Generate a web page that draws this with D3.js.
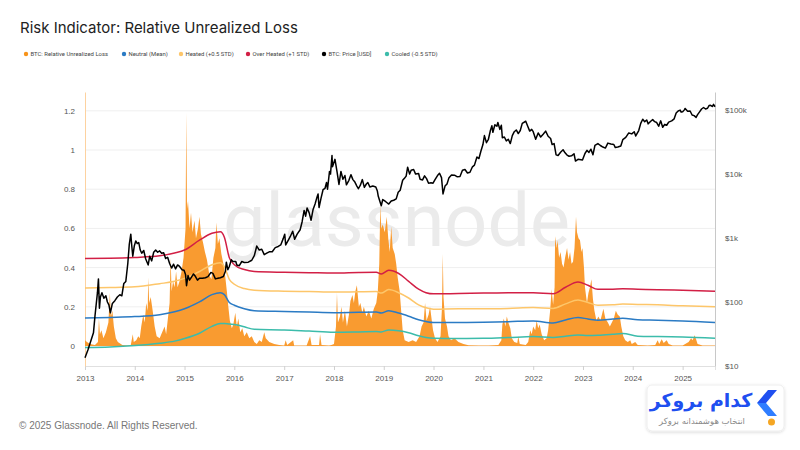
<!DOCTYPE html>
<html>
<head>
<meta charset="utf-8">
<script src="https://cdn.jsdelivr.net/npm/d3@7"></script>
<style>
  body { margin: 0; background: #fff; }
  svg { display: block; font-family: Roboto, "Open Sans", sans-serif; }
</style>
</head>
<body>
<svg id="chart" width="800" height="450"></svg>
<script>
// values, dates as decimal years
var yearTicks = [2013, 2014, 2015, 2016, 2017, 2018, 2019, 2020, 2021, 2022, 2023, 2024, 2025];
var lossTicks = [0, 0.2, 0.4, 0.6, 0.8, 1, 1.2];
var priceTicks = [10, 100, 1000, 10000, 100000];
var priceTickLabels = ["$10", "$100", "$1k", "$10k", "$100k"];

var legendNames = ["BTC: Relative Unrealized Loss", "Neutral (Mean)", "Heated (+0.5 STD)",
                   "Over Heated (+1 STD)", "BTC: Price [USD]", "Cooled (-0.5 STD)"];
var legendColors = ["#f7931a", "#2b7bc4", "#fdc66a", "#d21f45", "#000000", "#3cbcab"];
var legendX = [26, 124, 181, 248, 324, 387];

// BTC: Relative Unrealized Loss
var rulYears = [
  2013.0, 2013.04, 2013.1, 2013.2, 2013.26, 2013.28, 2013.3, 2013.33, 2013.37, 2013.42, 2013.47, 2013.5,
  2013.52, 2013.55, 2013.58, 2013.62, 2013.66, 2013.75, 2013.85, 2013.92, 2013.96, 2013.98,
  2014.03, 2014.07, 2014.1, 2014.13, 2014.17, 2014.2, 2014.23, 2014.26, 2014.27, 2014.29, 2014.32, 2014.36,
  2014.4, 2014.44, 2014.5, 2014.55, 2014.6, 2014.63, 2014.67, 2014.7, 2014.72, 2014.74, 2014.77, 2014.8,
  2014.83, 2014.86, 2014.9, 2014.94, 2014.98,
  2015.02, 2015.035, 2015.05, 2015.07, 2015.1, 2015.13, 2015.16, 2015.2, 2015.23, 2015.27, 2015.3, 2015.33,
  2015.37, 2015.41, 2015.45, 2015.5, 2015.54, 2015.58, 2015.62, 2015.64, 2015.67, 2015.7, 2015.74, 2015.78,
  2015.82, 2015.85, 2015.88, 2015.91, 2015.95, 2015.98,
  2016.02, 2016.05, 2016.08, 2016.12, 2016.16, 2016.2, 2016.25, 2016.3, 2016.35, 2016.4, 2016.45, 2016.5,
  2016.55, 2016.6, 2016.63, 2016.7, 2016.8, 2016.9,
  2017.0, 2017.03, 2017.06, 2017.18, 2017.2, 2017.45, 2017.52, 2017.55, 2017.7, 2017.72, 2017.75, 2017.9, 2017.95,
  2018.0, 2018.04, 2018.06, 2018.08, 2018.12, 2018.15, 2018.18, 2018.22, 2018.26, 2018.3, 2018.33, 2018.37,
  2018.4, 2018.43, 2018.46, 2018.5, 2018.53, 2018.57, 2018.6, 2018.65, 2018.7, 2018.75, 2018.8, 2018.85,
  2018.88, 2018.91, 2018.93, 2018.95, 2018.98,
  2019.02, 2019.06, 2019.09, 2019.12, 2019.15, 2019.18, 2019.22, 2019.25, 2019.28, 2019.32, 2019.35, 2019.38,
  2019.42, 2019.5, 2019.58, 2019.65, 2019.72, 2019.76, 2019.8, 2019.83, 2019.86, 2019.9, 2019.93, 2019.96, 2019.99,
  2020.03, 2020.08, 2020.14, 2020.17, 2020.185, 2020.2, 2020.23, 2020.27, 2020.3, 2020.35, 2020.42, 2020.5,
  2020.6, 2020.7, 2020.9,
  2021.1, 2021.3, 2021.36, 2021.38, 2021.41, 2021.44, 2021.47, 2021.5, 2021.54, 2021.57, 2021.62, 2021.68,
  2021.7, 2021.73, 2021.85, 2021.9, 2021.94, 2021.97,
  2022.0, 2022.04, 2022.07, 2022.1, 2022.13, 2022.17, 2022.22, 2022.27, 2022.3, 2022.34, 2022.37, 2022.4,
  2022.43, 2022.44, 2022.47, 2022.49, 2022.52, 2022.55, 2022.58, 2022.61, 2022.64, 2022.68, 2022.71, 2022.74,
  2022.77, 2022.8, 2022.83, 2022.86, 2022.88, 2022.91, 2022.94, 2022.97, 2022.99,
  2023.02, 2023.04, 2023.08, 2023.11, 2023.14, 2023.17, 2023.2, 2023.23, 2023.27, 2023.31, 2023.35, 2023.38,
  2023.41, 2023.45, 2023.5, 2023.54, 2023.58, 2023.62, 2023.66, 2023.7, 2023.74, 2023.77, 2023.81, 2023.85,
  2023.9, 2023.95, 2023.98,
  2024.05, 2024.1, 2024.3, 2024.45, 2024.5, 2024.53, 2024.58, 2024.62, 2024.68, 2024.72, 2024.8,
  2025.0, 2025.12, 2025.17, 2025.2, 2025.24, 2025.27, 2025.3, 2025.4, 2025.65
];
var rulValues = [
  0.03, 0.02, 0.01, 0.005, 0.02, 0.14, 0.06, 0.08, 0.04, 0.07, 0.12, 0.27,
  0.15, 0.18, 0.1, 0.04, 0.02, 0.005, 0.002, 0.005, 0.06, 0.02,
  0.03, 0.05, 0.04, 0.1, 0.16, 0.12, 0.22, 0.18, 0.35, 0.22, 0.25, 0.18,
  0.1, 0.05, 0.04, 0.07, 0.1, 0.06, 0.15, 0.22, 0.45, 0.28, 0.33, 0.3,
  0.38, 0.3, 0.33, 0.38, 0.45,
  0.6, 1.19, 0.7, 0.74, 0.6, 0.68, 0.58, 0.64, 0.55, 0.6, 0.66, 0.57,
  0.53, 0.48, 0.44, 0.36, 0.34, 0.45, 0.5, 0.63, 0.52, 0.55, 0.47, 0.42,
  0.35, 0.28, 0.2, 0.13, 0.09, 0.11,
  0.17, 0.1, 0.14, 0.07, 0.09, 0.05, 0.07, 0.04, 0.05, 0.02, 0.01, 0.03,
  0.02, 0.07, 0.04, 0.02, 0.01, 0.005,
  0.003, 0.03, 0.005, 0.03, 0.003, 0.003, 0.05, 0.005, 0.005, 0.06, 0.005, 0.003, 0.005,
  0.01, 0.1, 0.27, 0.12, 0.15, 0.2, 0.12, 0.18, 0.1, 0.16, 0.23, 0.26,
  0.22, 0.28, 0.31, 0.2, 0.22, 0.17, 0.2, 0.15, 0.18, 0.14, 0.19, 0.22,
  0.28, 0.42, 0.72, 0.6, 0.62,
  0.58, 0.66, 0.55, 0.48, 0.61, 0.5, 0.47, 0.42, 0.35, 0.28, 0.18, 0.08,
  0.03, 0.02, 0.03, 0.02, 0.05, 0.1, 0.12, 0.22, 0.13, 0.16, 0.2, 0.14, 0.08,
  0.04, 0.02, 0.05, 0.2, 0.47, 0.25, 0.14, 0.1, 0.05, 0.03, 0.04, 0.02,
  0.01, 0.004, 0.002,
  0.002, 0.005, 0.03, 0.11, 0.14, 0.1, 0.15, 0.12, 0.09, 0.04, 0.02, 0.015,
  0.05, 0.01, 0.005, 0.02, 0.08, 0.06,
  0.1, 0.08, 0.13, 0.09, 0.11, 0.06, 0.03, 0.04, 0.08, 0.18, 0.29, 0.21,
  0.3, 0.56, 0.5, 0.54, 0.45, 0.48, 0.42, 0.4, 0.45, 0.5, 0.44, 0.48,
  0.42, 0.43, 0.5, 0.66, 0.58, 0.55, 0.54, 0.48, 0.5,
  0.4, 0.3, 0.22, 0.27, 0.3, 0.34, 0.24, 0.18, 0.13, 0.15, 0.13, 0.16,
  0.19, 0.14, 0.12, 0.1, 0.12, 0.14, 0.18, 0.16, 0.15, 0.1, 0.05, 0.03,
  0.02, 0.03, 0.01,
  0.02, 0.005, 0.003, 0.005, 0.03, 0.01, 0.035, 0.015, 0.03, 0.01, 0.003,
  0.003, 0.02, 0.04, 0.03, 0.055, 0.035, 0.01, 0.003, 0.003
];

// BTC: Price [USD]
var priceYears = [
  2013.0, 2013.06, 2013.12, 2013.17, 2013.2, 2013.25, 2013.27, 2013.29, 2013.31, 2013.34, 2013.38, 2013.42,
  2013.45, 2013.48, 2013.51, 2013.55, 2013.6, 2013.65, 2013.7, 2013.74, 2013.78, 2013.82, 2013.86, 2013.89,
  2013.92, 2013.94, 2013.96, 2013.99,
  2014.02, 2014.05, 2014.08, 2014.11, 2014.14, 2014.18, 2014.22, 2014.27, 2014.3, 2014.34, 2014.38, 2014.42,
  2014.46, 2014.5, 2014.54, 2014.58, 2014.62, 2014.66, 2014.7, 2014.74, 2014.78, 2014.82, 2014.86, 2014.9,
  2014.95, 2014.99,
  2015.02, 2015.04, 2015.07, 2015.1, 2015.14, 2015.18, 2015.22, 2015.26, 2015.3, 2015.36, 2015.42, 2015.47,
  2015.53, 2015.57, 2015.62, 2015.67, 2015.72, 2015.78, 2015.82, 2015.84, 2015.87, 2015.9, 2015.94, 2015.97,
  2016.03, 2016.05, 2016.1, 2016.15, 2016.2, 2016.28, 2016.35, 2016.4, 2016.45, 2016.5, 2016.55, 2016.6,
  2016.65, 2016.7, 2016.76, 2016.82, 2016.88, 2016.93, 2016.98,
  2017.01, 2017.03, 2017.08, 2017.12, 2017.17, 2017.21, 2017.26, 2017.32, 2017.36, 2017.4, 2017.43, 2017.46,
  2017.5, 2017.54, 2017.58, 2017.62, 2017.66, 2017.68, 2017.7, 2017.74, 2017.78, 2017.82, 2017.85, 2017.87,
  2017.91, 2017.93, 2017.96, 2017.97,
  2018.02, 2018.06, 2018.1, 2018.14, 2018.18, 2018.22, 2018.25, 2018.3, 2018.34, 2018.38, 2018.42, 2018.46,
  2018.49, 2018.53, 2018.57, 2018.61, 2018.65, 2018.68, 2018.72, 2018.78, 2018.84, 2018.87, 2018.89, 2018.92,
  2018.95, 2018.98,
  2019.02, 2019.06, 2019.1, 2019.15, 2019.2, 2019.25, 2019.29, 2019.33, 2019.38, 2019.42, 2019.45, 2019.48,
  2019.52, 2019.55, 2019.6, 2019.64, 2019.7, 2019.73, 2019.78, 2019.82, 2019.86, 2019.9, 2019.95, 2019.99,
  2020.03, 2020.08, 2020.12, 2020.16, 2020.19, 2020.23, 2020.27, 2020.31, 2020.36, 2020.42, 2020.47, 2020.53,
  2020.58, 2020.63, 2020.68, 2020.73, 2020.78, 2020.82, 2020.87, 2020.91, 2020.95, 2020.99,
  2021.02, 2021.06, 2021.1, 2021.14, 2021.17, 2021.19, 2021.23, 2021.27, 2021.29, 2021.33, 2021.36, 2021.38,
  2021.42, 2021.46, 2021.5, 2021.54, 2021.58, 2021.62, 2021.66, 2021.7, 2021.74, 2021.78, 2021.85, 2021.89,
  2021.93, 2021.97,
  2022.0, 2022.05, 2022.1, 2022.15, 2022.2, 2022.25, 2022.3, 2022.35, 2022.38, 2022.42, 2022.46, 2022.5,
  2022.55, 2022.6, 2022.64, 2022.68, 2022.72, 2022.77, 2022.82, 2022.85, 2022.9, 2022.96, 2022.99,
  2023.04, 2023.08, 2023.12, 2023.16, 2023.2, 2023.24, 2023.3, 2023.35, 2023.4, 2023.45, 2023.5, 2023.56,
  2023.62, 2023.65, 2023.7, 2023.76, 2023.8, 2023.86, 2023.92, 2023.98,
  2024.03, 2024.06, 2024.12, 2024.16, 2024.2, 2024.24, 2024.28, 2024.31, 2024.36, 2024.4, 2024.44, 2024.48,
  2024.52, 2024.56, 2024.6, 2024.64, 2024.68, 2024.72, 2024.78, 2024.83, 2024.87, 2024.91, 2024.95, 2024.97,
  2025.0, 2025.03, 2025.05, 2025.1, 2025.15, 2025.19, 2025.23, 2025.27, 2025.3, 2025.34, 2025.38, 2025.42,
  2025.46, 2025.5, 2025.53, 2025.56, 2025.6, 2025.62, 2025.65
];
var priceValues = [
  13.5, 18, 25, 33, 60, 140, 230, 80, 120, 140, 115, 125,
  100, 90, 68, 95, 105, 120, 130, 125, 195, 210, 400, 800,
  1150, 750, 520, 750,
  900, 820, 850, 650, 580, 640, 470, 380, 520, 440, 600, 650,
  600, 630, 580, 590, 480, 500, 400, 340, 390, 330, 380, 360,
  320, 315,
  270, 180, 260, 220, 245, 275, 250, 220, 235, 235, 240, 250,
  290, 280, 230, 235, 240, 250, 300, 420, 320, 360, 460, 430,
  430, 380, 370, 430, 415, 420, 450, 530, 750, 650, 670, 550,
  580, 610, 610, 710, 740, 780, 980,
  1150, 780, 920, 1050, 1280, 960, 1150, 1350, 1800, 2700, 2200, 2950,
  2500, 1900, 2800, 3400, 4400, 4900, 3000, 4200, 5700, 6000, 7400, 5800,
  11000, 10000, 19500, 13000,
  17000, 11000, 6900, 11000, 8300, 9500, 6800, 8000, 9800, 8200, 7500, 6500,
  5900, 6700, 8200, 6200, 7000, 7400, 6300, 6500, 6300, 5500, 4500, 3800,
  3200, 4000,
  3800, 3600, 3400, 3800, 3900, 4100, 5200, 5600, 8000, 8700, 9300, 12800,
  10000, 11500, 11800, 10000, 10200, 8300, 8100, 9400, 8500, 7200, 7300, 7200,
  8200, 9500, 10300, 8800, 4900, 6500, 7000, 8800, 9700, 9600, 9100, 9200,
  11500, 11800, 10400, 10700, 13000, 13800, 18500, 17500, 23000, 29000,
  40000, 31000, 35000, 48000, 57000, 45000, 59000, 56000, 64000, 50000, 58000, 37000,
  38000, 33000, 35000, 30000, 40000, 46000, 49000, 43000, 48000, 62000, 67000, 56000,
  47000, 50000,
  46000, 35000, 44000, 38000, 42000, 47000, 39000, 36000, 29000, 30000, 20000, 19500,
  22000, 24000, 21500, 19800, 19000, 19300, 20800, 16000, 17000, 16800, 16600,
  21000, 23500, 21800, 24500, 20000, 28000, 30000, 28000, 26500, 25500, 30500, 29500,
  29000, 26000, 26500, 27500, 34500, 37500, 44000, 42500,
  46000, 39500, 48000, 62000, 72000, 66000, 70000, 61000, 67000, 71000, 66000, 64000,
  56000, 68000, 54000, 60000, 58000, 65000, 68000, 73000, 90000, 97000, 100000, 93000,
  94000, 100000, 106000, 96000, 97000, 84000, 82000, 77000, 85000, 94000, 104000, 110000,
  104000, 107000, 118000, 119000, 114000, 123000, 113000
];

// the four bands share one date list
var bandYears = [2013.0, 2013.5, 2014.0, 2014.5, 2014.8, 2015.0, 2015.3, 2015.55, 2015.72, 2015.8, 2015.9,
  2016.0, 2016.2, 2016.4, 2017.0, 2017.5, 2018.0, 2018.5, 2018.85, 2018.95, 2019.1, 2019.3, 2019.5, 2019.7,
  2019.85, 2020.0, 2020.5, 2021.0, 2021.5, 2022.0, 2022.4, 2022.65, 2022.9, 2023.1, 2023.3, 2023.6, 2023.8,
  2024.1, 2024.5, 2025.0, 2025.65];
var overHeated = [0.447, 0.448, 0.452, 0.46, 0.475, 0.49, 0.54, 0.575, 0.583, 0.555, 0.45,
  0.415, 0.39, 0.38, 0.376, 0.374, 0.372, 0.375, 0.376, 0.368, 0.386, 0.37, 0.33, 0.29,
  0.272, 0.266, 0.268, 0.27, 0.272, 0.272, 0.267, 0.3, 0.326, 0.31, 0.289, 0.29, 0.292,
  0.29, 0.287, 0.285, 0.28];
var heated = [0.296, 0.298, 0.302, 0.318, 0.33, 0.345, 0.38, 0.415, 0.425, 0.405, 0.34,
  0.315, 0.293, 0.285, 0.28, 0.278, 0.275, 0.277, 0.278, 0.27, 0.288, 0.272, 0.245, 0.21,
  0.195, 0.188, 0.19, 0.19, 0.192, 0.196, 0.192, 0.215, 0.235, 0.222, 0.208, 0.21, 0.214,
  0.212, 0.21, 0.205, 0.2];
var neutral = [0.143, 0.146, 0.15, 0.16, 0.175, 0.19, 0.225, 0.262, 0.272, 0.262, 0.222,
  0.208, 0.19, 0.18, 0.176, 0.173, 0.17, 0.172, 0.173, 0.168, 0.18, 0.168, 0.152, 0.134,
  0.125, 0.12, 0.12, 0.121, 0.124, 0.128, 0.118, 0.133, 0.145, 0.138, 0.132, 0.138, 0.142,
  0.134, 0.132, 0.128, 0.12];
var cooled = [-0.008, -0.005, 0.002, 0.014, 0.025, 0.038, 0.065, 0.1, 0.115, 0.115, 0.112,
  0.11, 0.098, 0.085, 0.082, 0.076, 0.07, 0.072, 0.074, 0.072, 0.082, 0.078, 0.068, 0.052,
  0.044, 0.04, 0.038, 0.039, 0.043, 0.048, 0.043, 0.05, 0.056, 0.054, 0.055, 0.06, 0.064,
  0.05, 0.048, 0.046, 0.04];

// decimal year -> Date
function toDate(y) {
  var yr = Math.floor(y);
  var start = Date.UTC(yr, 0, 1), end = Date.UTC(yr + 1, 0, 1);
  return new Date(start + (y - yr) * (end - start));
}

var svg = d3.select("#chart");
var plotLeft = 85, plotRight = 715, plotTop = 92, plotBottom = 366;

var x = d3.scaleUtc().domain([toDate(2013), toDate(2025.65)]).range([plotLeft, plotRight]);
var yL = d3.scaleLinear().domain([-0.102, 1.296]).range([plotBottom, plotTop]);
var yR = d3.scaleLog().domain([10, 192000]).range([plotBottom, plotTop]);

// title + legend
svg.append("text").attr("x", 20).attr("y", 33)
  .style("font-family", "Inter, Roboto, sans-serif").style("font-size", "15px").attr("fill", "#222")
  .text("Risk Indicator: Relative Unrealized Loss");

var legend = svg.append("g").selectAll("g").data(legendNames).enter().append("g")
  .attr("transform", function(d, i) { return "translate(" + legendX[i] + ",54)"; });
legend.append("circle").attr("r", 2.2).attr("fill", function(d, i) { return legendColors[i]; });
legend.append("text").attr("x", 4.5).attr("dy", "0.35em")
  .style("font-size", "5.9px").attr("fill", "#444").text(function(d) { return d; });

// gridlines
svg.append("g").selectAll("line").data(lossTicks).enter().append("line")
  .attr("x1", plotLeft).attr("x2", plotRight)
  .attr("y1", function(d) { return yL(d); }).attr("y2", function(d) { return yL(d); })
  .attr("stroke", "#efefef");

// watermark
svg.append("text").attr("x", 223).attr("y", 246)
  .attr("textLength", 347).attr("lengthAdjust", "spacingAndGlyphs")
  .style("font-family", "Roboto, sans-serif").style("font-size", "74px")
  .attr("fill", "#ebebeb").text("glassnode");

// axes
var xAxis = svg.append("g").attr("transform", "translate(0," + plotBottom + ")")
  .call(d3.axisBottom(x).tickValues(yearTicks.map(toDate)).tickFormat(d3.utcFormat("%Y"))
    .tickSize(4).tickPadding(5));
xAxis.select(".domain").attr("stroke", "#e0e0e0");
xAxis.selectAll(".tick line").attr("stroke", "#d0d0d0");
xAxis.selectAll("text").attr("fill", "#555").style("font-size", "8px");

var lAxis = svg.append("g").attr("transform", "translate(" + plotLeft + ",0)")
  .call(d3.axisLeft(yL).tickValues(lossTicks).tickFormat(d3.format("~g")).tickSize(0).tickPadding(10));
lAxis.select(".domain").attr("stroke", "#fdd2a0");
lAxis.selectAll("text").attr("fill", "#555").style("font-size", "8px");

var rAxis = svg.append("g").attr("transform", "translate(" + plotRight + ",0)")
  .call(d3.axisRight(yR).tickValues(priceTicks).tickFormat(function(d, i) { return priceTickLabels[i]; })
    .tickSize(0).tickPadding(10));
rAxis.select(".domain").attr("stroke", "#c8c8c8");
rAxis.selectAll("text").attr("fill", "#555").style("font-size", "8px");

// series
var rul = rulYears.map(function(d, i) { return [toDate(d), rulValues[i]]; });
svg.append("path").datum(rul)
  .attr("fill", "#f99b30")
  .attr("d", d3.area().x(function(d) { return x(d[0]); }).y0(yL(0)).y1(function(d) { return yL(d[1]); }));

var bandLine = d3.line().curve(d3.curveMonotoneX)
  .x(function(d) { return x(d[0]); }).y(function(d) { return yL(d[1]); });
[[cooled, legendColors[5]], [neutral, legendColors[1]], [heated, legendColors[2]], [overHeated, legendColors[3]]]
  .forEach(function(b) {
    svg.append("path")
      .datum(bandYears.map(function(d, i) { return [toDate(d), b[0][i]]; }))
      .attr("fill", "none").attr("stroke", b[1]).attr("stroke-width", 1.5)
      .attr("d", bandLine);
  });

svg.append("path")
  .datum(priceYears.map(function(d, i) { return [toDate(d), priceValues[i]]; }))
  .attr("fill", "none").attr("stroke", "#000").attr("stroke-width", 1.5).attr("stroke-linejoin", "round")
  .attr("d", d3.line().x(function(d) { return x(d[0]); }).y(function(d) { return yR(d[1]); }));

// footer
svg.append("text").attr("x", 19).attr("y", 429)
  .style("font-family", "'Liberation Sans', Arial, sans-serif").style("font-size", "10px")
  .attr("fill", "#777").text("\u00a9 2025 Glassnode. All Rights Reserved.");

// broker badge, bottom right
var defs = svg.append("defs");
defs.append("filter").attr("id", "badge-shadow").attr("x", "-10%").attr("y", "-10%")
  .attr("width", "120%").attr("height", "140%")
  .append("feDropShadow").attr("dx", 0).attr("dy", 1).attr("stdDeviation", 1.5)
  .attr("flood-color", "#000").attr("flood-opacity", 0.15);

var badge = svg.append("g");
badge.append("rect").attr("x", 647).attr("y", 385).attr("width", 137).attr("height", 46).attr("rx", 5)
  .attr("fill", "#fff").attr("stroke", "#eeeeee").style("filter", "url(#badge-shadow)");
badge.append("text").attr("x", 701).attr("y", 407).attr("text-anchor", "middle").attr("direction", "rtl")
  .style("font-family", "'DejaVu Sans', sans-serif").style("font-weight", "bold").style("font-size", "19px")
  .attr("fill", "#1f4ff0").text("کدام بروکر");
badge.append("text").attr("x", 702).attr("y", 424).attr("text-anchor", "middle").attr("direction", "rtl")
  .style("font-family", "'DejaVu Sans', sans-serif").style("font-size", "8.5px")
  .attr("fill", "#8a8a8a").text("انتخاب هوشمندانه بروکر");
badge.append("path").attr("d", "M768,390 L777,390 L766,403 L757,403 Z").attr("fill", "#1f4ff0");
badge.append("path").attr("d", "M757,403 L766,403 L777,416 L768,416 Z").attr("fill", "#2f7dff");
badge.append("circle").attr("cx", 771.5).attr("cy", 422).attr("r", 3.5).attr("fill", "#f5a623");
</script>
</body>
</html>
